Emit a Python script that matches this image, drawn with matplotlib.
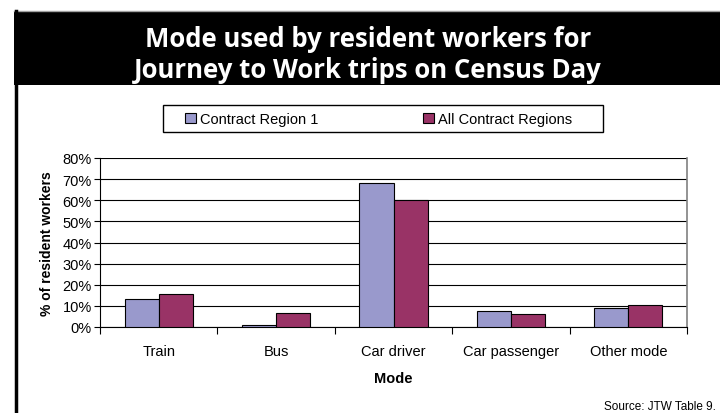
import matplotlib
matplotlib.use("Agg")
import matplotlib.pyplot as plt
from matplotlib.patches import Rectangle, Patch
from matplotlib.lines import Line2D
import numpy as np

categories = ["Train", "Bus", "Car driver", "Car passenger", "Other mode"]
series_names = ["Contract Region 1", "All Contract Regions"]
region1 = [13.3, 1.0, 68.0, 7.7, 8.9]
all_regions = [15.6, 6.6, 60.0, 6.0, 10.6]
yticks = [0, 10, 20, 30, 40, 50, 60, 70, 80]
title = "Mode used by resident workers for\nJourney to Work trips on Census Day"
colors = ["#9999CC", "#993366"]

W, H = 720, 414
fig = plt.figure(figsize=(7.2, 4.14), dpi=100)
fig.patch.set_facecolor("white")

def fx(x): return x / W
def fy(y): return 1 - y / H

# title band
fig.patches.append(Rectangle((fx(14), fy(86)), fx(720) - fx(14), fy(12) - fy(86),
                             transform=fig.transFigure, facecolor="black",
                             edgecolor="none", zorder=0))
fig.lines.append(Line2D([fx(14), fx(720)], [fy(11.5), fy(11.5)], transform=fig.transFigure,
                        color="#a0a0a0", lw=1))
fig.lines.append(Line2D([fx(15.5), fx(15.5)], [fy(12), 0], transform=fig.transFigure,
                        color="black", lw=2.5))
fig.text(fx(368), fy(55), title, color="white", ha="center", va="center",
         fontsize=18.5, fontweight="bold", family="Open Sans", linespacing=1.2)

ax = fig.add_axes([fx(100), fy(328), fx(687) - fx(100), fy(159) - fy(328)])
x = np.arange(len(categories))
bw = 0.29
ax.bar(x - bw / 2, region1, bw, color=colors[0], edgecolor="black", linewidth=0.8, zorder=3)
ax.bar(x + bw / 2, all_regions, bw, color=colors[1], edgecolor="black", linewidth=0.8, zorder=3)
ax.set_xlim(-0.5, len(categories) - 0.5)
ax.set_ylim(0, 80)
ax.set_yticks(yticks)
ax.set_yticklabels([f"{v}%" for v in yticks], fontsize=10.5, family="Liberation Sans")
ax.yaxis.grid(True, color="black", lw=0.8, zorder=0)
ax.set_axisbelow(True)
ax.set_xticks(np.arange(len(categories) + 1) - 0.5)
ax.set_xticklabels([])
ax.tick_params(axis="x", length=5, width=0.8, direction="out", color="black")
ax.tick_params(axis="y", length=4, width=0.8, direction="out", pad=2)
for i, c in enumerate(categories):
    ax.text(i, -11.5, c, ha="center", va="center", fontsize=10.5, family="Liberation Sans")
ax.text(0.5, -0.30, "Mode", transform=ax.transAxes, ha="center", va="center",
        fontsize=10.5, fontweight="bold", family="Liberation Sans")
ax.set_ylabel("% of resident workers", fontsize=10, fontweight="bold",
              family="Liberation Sans", labelpad=6)
for s in ["left", "bottom"]:
    ax.spines[s].set_color("black")
    ax.spines[s].set_linewidth(0.8)
ax.spines["top"].set_visible(False)
ax.spines["right"].set_color("#808080")
ax.spines["right"].set_linewidth(1.2)

# legend frame
fig.patches.append(Rectangle((fx(163), fy(133)), fx(603) - fx(163), fy(106) - fy(133),
                             transform=fig.transFigure, facecolor="white",
                             edgecolor="black", lw=1, zorder=1))
handles = [Patch(facecolor=colors[0], edgecolor="black", lw=0.8),
           Patch(facecolor=colors[1], edgecolor="black", lw=0.8)]
leg = fig.legend(handles, series_names, loc="center left", ncol=2,
                 bbox_to_anchor=(fx(181), fy(120)),
                 frameon=False,
                 prop={"family": "Liberation Sans", "size": 10.5},
                 handlelength=0.7, handleheight=0.7, handletextpad=0.3,
                 columnspacing=7.2, borderaxespad=0, borderpad=0.3)

fig.text(fx(716), fy(407), "Source: JTW Table 9.", ha="right", va="center",
         fontsize=8.5, family="Liberation Sans")

fig.savefig("out.png", dpi=100)
